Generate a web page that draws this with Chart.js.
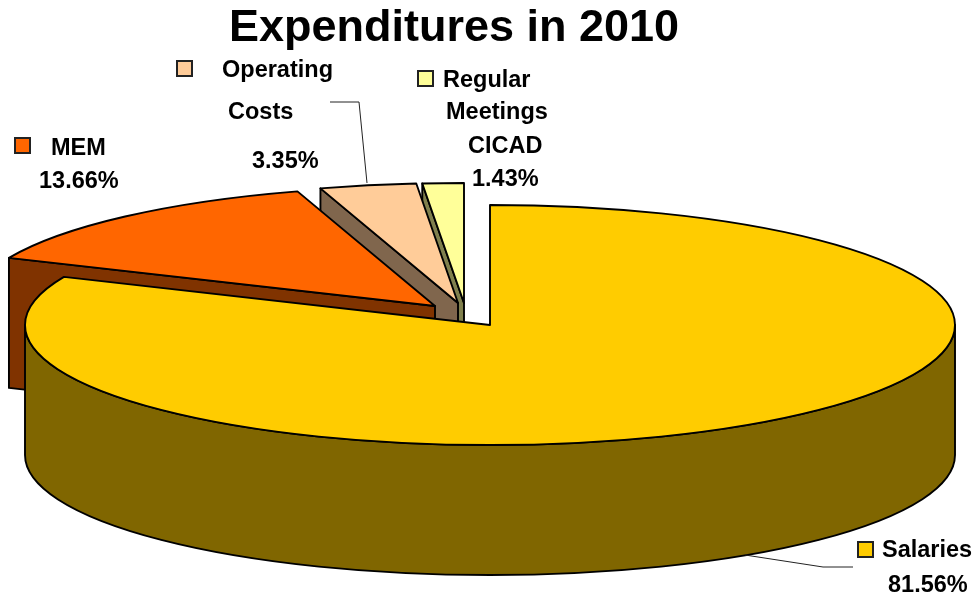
<!DOCTYPE html>
<html>
<head>
<meta charset="utf-8">
<style>html,body{margin:0;padding:0;background:#fff}canvas{display:block}</style>
<script src="https://cdn.jsdelivr.net/npm/chart.js@4"></script>
</head>
<body>
<canvas id="c" width="977" height="596"></canvas>
<script>
const categories = ["Salaries", "MEM", "Operating Costs", "Regular Meetings CICAD"];
const shares = [81.56, 13.66, 3.35, 1.43];
const chartTitle = "Expenditures in 2010";
const labelLines = [
  ["Salaries", "81.56%"],
  ["MEM", "13.66%"],
  ["Operating", "Costs", "3.35%"],
  ["Regular", "Meetings", "CICAD", "1.43%"]
];

const topColors = ["#FFCC00", "#FF6600", "#FFCC99", "#FFFF99"];
const wallColors = ["#806600", "#803300", "#80664D", "#80804D"];

const view = {
  rx: 465, ry: 120, depth: 130,
  apex: [[490, 325], [435, 306], [458, 303], [464, 303]],
  order: [3, 2, 1, 0]
};
const textLayout = [
  { key: [858, 542], text: [[882, 557], [888, 592]] },
  { key: [15, 138], text: [[51, 155], [39, 188]] },
  { key: [177, 61], text: [[222, 77], [228, 119], [252, 168]] },
  { key: [418, 71], text: [[443, 87], [446, 119], [468, 153], [472, 186]] }
];
const leaders = [
  [[745, 555], [823, 567], [853, 567]],
  [[330, 102], [359, 102], [367, 183]]
];

const pie3d = {
  id: "pie3d",
  beforeDatasetsDraw(chart) {
    const ctx = chart.ctx;
    const arcs = chart.getDatasetMeta(0).data;
    const { rx, ry, depth } = view;
    ctx.save();
    ctx.lineWidth = 1.9;
    ctx.strokeStyle = "#000";
    ctx.lineJoin = "round";
    view.order.forEach(i => {
      const arc = arcs[i];
      const [ax, ay] = view.apex[i];
      const a0 = arc.startAngle, a1 = arc.endAngle;
      ctx.fillStyle = wallColors[i];

      // cut face at the start of the slice (faces the viewer on the left side)
      if (i !== 0) {
        const ex = ax + rx * Math.cos(a0), ey = ay + ry * Math.sin(a0);
        ctx.beginPath();
        ctx.moveTo(ax, ay);
        ctx.lineTo(ex, ey);
        ctx.lineTo(ex, ey + depth);
        ctx.lineTo(ax, ay + depth);
        ctx.closePath();
        ctx.fill();
        ctx.stroke();
      }

      // outer wall, front half only
      const norm = a => { const t = Math.PI * 2; return ((a % t) + t) % t; };
      const n0 = norm(a0);
      const n1 = n0 + (a1 - a0);
      const w0 = Math.max(n0, 0), w1 = Math.min(n1, Math.PI);
      const from = n0 > Math.PI ? (n1 > Math.PI * 2 ? 0 : null) : w0;
      const to = n0 > Math.PI ? (n1 > Math.PI * 2 ? Math.min(n1 - Math.PI * 2, Math.PI) : null) : w1;
      if (from !== null && to > from) {
        ctx.beginPath();
        ctx.ellipse(ax, ay, rx, ry, 0, from, to);
        ctx.ellipse(ax, ay + depth, rx, ry, 0, to, from, true);
        ctx.closePath();
        ctx.fill();
        ctx.stroke();
      }

      // top face: the library's arc, squashed into an ellipse
      const R = arc.outerRadius;
      ctx.save();
      ctx.translate(ax, ay);
      ctx.scale(rx / R, ry / R);
      ctx.translate(-arc.x, -arc.y);
      arc.draw(ctx);
      ctx.restore();

      ctx.beginPath();
      ctx.moveTo(ax, ay);
      ctx.ellipse(ax, ay, rx, ry, 0, a0, a1);
      ctx.closePath();
      ctx.stroke();
    });
    ctx.restore();
    return false;
  },
  afterDraw(chart) {
    const ctx = chart.ctx;
    ctx.save();
    ctx.lineWidth = 1;
    ctx.strokeStyle = "#222";
    leaders.forEach(pts => {
      ctx.beginPath();
      pts.forEach((p, k) => k ? ctx.lineTo(p[0], p[1]) : ctx.moveTo(p[0], p[1]));
      ctx.stroke();
    });
    ctx.font = 'bold 23.5px "Liberation Sans"';
    ctx.textBaseline = "alphabetic";
    ctx.textAlign = "left";
    labelLines.forEach((lines, i) => {
      const lay = textLayout[i];
      ctx.fillStyle = topColors[i];
      ctx.lineWidth = 2;
      ctx.fillRect(lay.key[0], lay.key[1], 15, 15);
      ctx.strokeRect(lay.key[0], lay.key[1], 15, 15);
      ctx.fillStyle = "#000";
      lines.forEach((s, k) => ctx.fillText(s, lay.text[k][0], lay.text[k][1]));
    });
    ctx.restore();
  }
};

new Chart(document.getElementById("c"), {
  type: "pie",
  data: {
    labels: categories,
    datasets: [{ data: shares, backgroundColor: topColors, borderWidth: 0 }]
  },
  options: {
    responsive: false,
    animation: false,
    layout: { padding: { right: 69 } },
    plugins: {
      legend: { display: false },
      tooltip: { enabled: false },
      title: {
        display: true,
        text: chartTitle,
        color: "#000",
        font: { family: '"Liberation Sans"', size: 45, weight: "bold", lineHeight: 1.2 },
        padding: { top: 2, bottom: 0 }
      }
    }
  },
  plugins: [pie3d]
});
</script>
</body>
</html>
